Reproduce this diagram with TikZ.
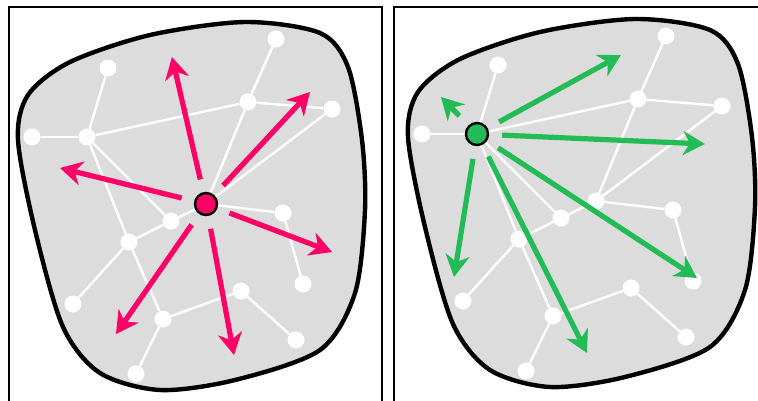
\documentclass[tikz,border=0pt]{standalone}
\usepackage{xcolor}
\usepackage{tikz}
\usetikzlibrary{arrows.meta}
\definecolor{hubred}{HTML}{FF0066}
\definecolor{hubgreen}{HTML}{22BB55}
\definecolor{blobgray}{HTML}{DCDCDC}

\begin{document}
\begin{tikzpicture}[x=1pt, y=-1pt,
    panel/.style={draw=black, line width=1.8pt},
    blob/.style={draw=black, fill=blobgray, line width=4.4pt},
    vert/.style={circle, fill=white, inner sep=0pt, minimum size=17pt},
    edge/.style={draw=white, line width=2.4pt},
    hub/.style={circle, draw=black, line width=2.4pt, inner sep=0pt, minimum size=22pt},
    ray/.style={line width=5.2pt, shorten <=13pt,
                -{Stealth[length=22pt, width=24pt, inset=7pt]}},
]
    \useasboundingbox (0,0) rectangle (758,400);
    \clip (0,0) rectangle (758,400);

    \draw[panel] (9,7) rectangle (382,420);
    \draw[panel] (394,7) rectangle (780,420);

    % the same network in both panels
    \foreach \p/\dx/\dy in {l/0/0, r/390/-3} {
        \begin{scope}[shift={(\dx,\dy)}]
            \draw[blob] plot[smooth cycle] coordinates {
                (245,22) (320,33) (348,67) (362,140) (365,210) (355,293)
                (320,350) (235,380) (160,390) (100,373) (63,327) (35,230)
                (18,140) (28,95) (70,62) (150,35)};
            \foreach \i/\x/\y in {1/276/39, 2/108/68, 3/248/102, 4/332/109,
                    5/32/137, 6/87/137, 7/206/204, 8/283/213, 9/171/221,
                    10/129/242, 11/303/284, 12/73/304, 13/241/291,
                    14/163/319, 15/296/340, 16/136/374}
                \node[vert] (\p\i) at (\x,\y) {};
            \foreach \a/\b in {1/3, 2/6, 5/6, 6/3, 3/4, 3/7, 4/7, 6/9, 6/10,
                    10/14, 9/7, 9/10, 10/12, 7/8, 8/11, 14/13, 13/15, 14/16}
                \draw[edge] (\p\a) -- (\p\b);
        \end{scope}
    }

    % left: rays from the central vertex
    \node[hub, fill=hubred] (hubl) at (l7) {};
    \coordinate (tl1) at (172,57);
    \coordinate (tl2) at (310,92);
    \coordinate (tl3) at (60,168);
    \coordinate (tl4) at (332,252);
    \coordinate (tl5) at (116,334);
    \coordinate (tl6) at (234,355);
    \foreach \t in {1,...,6}
        \draw[ray, hubred] (hubl) -- (tl\t);

    % right: rays from the corner vertex
    \node[hub, fill=hubgreen] (hubr) at (r6) {};
    \coordinate (tr1) at (441,97);
    \coordinate (tr2) at (621,55);
    \coordinate (tr3) at (705,144);
    \coordinate (tr4) at (697,278);
    \coordinate (tr5) at (454,277);
    \coordinate (tr6) at (587,353);
    \foreach \t in {1,...,6}
        \draw[ray, hubgreen] (hubr) -- (tr\t);
\end{tikzpicture}
\end{document}
